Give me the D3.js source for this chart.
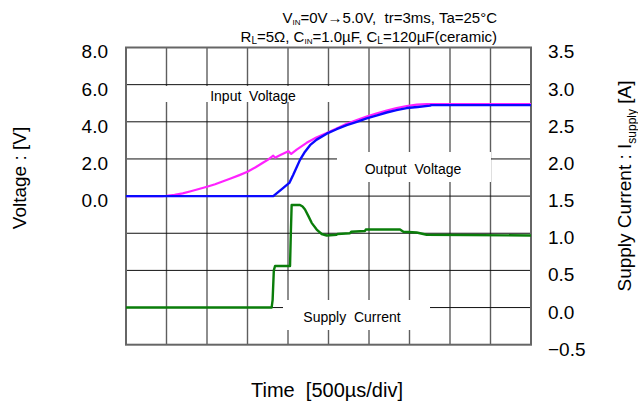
<!DOCTYPE html>
<html><head><meta charset="utf-8">
<script src="https://cdn.jsdelivr.net/npm/d3@7"></script>
<style>
html,body{margin:0;padding:0;background:#fff;}
svg{display:block;font-family:"Liberation Sans",Arial,sans-serif;}
text{white-space:pre;}
</style></head>
<body><svg id="c" width="638" height="401"></svg>
<script>
// ---- data ----
const timeTicks = [0,500,1000,1500,2000,2500,3000,3500,4000,4500,5000]; // µs, 500 µs/div
const voltGrid = [-8,-6,-4,-2,0,2,4,6,8];
const voltTickLabels = [8,6,4,2,0];
const currTickLabels = [3.5,3.0,2.5,2.0,1.5,1.0,0.5,0.0,-0.5];

const inputT = [0,450,500,600,700,800,900,1000,1100,1200,1300,1400,1500,1600,1700,1750,1818,1840,1900,2004,2040,2107,2230,2350,2478,2600,2725,2850,2971,3100,3218,3340,3465,3590,3712,5000];
const inputV = [0,0,0.02,0.07,0.15,0.26,0.38,0.5,0.64,0.8,0.96,1.13,1.31,1.55,1.82,1.95,2.18,2.07,2.2,2.42,2.27,2.5,2.87,3.15,3.4,3.64,3.89,4.1,4.28,4.46,4.6,4.74,4.85,4.92,4.95,4.95];

const outputT = [0,1818,1942,2016,2065,2148,2210,2272,2354,2478,2600,2725,2850,2971,3100,3218,3340,3465,3600,3753,3770,5000];
const outputV = [0,0,0.44,0.71,1.15,1.95,2.39,2.74,3.04,3.36,3.6,3.82,4.0,4.18,4.35,4.5,4.63,4.74,4.8,4.87,4.9,4.9];

const currT = [0,1798,1810,1825,1840,2025,2035,2045,2148,2180,2210,2252,2292,2354,2416,2478,2601,2610,2765,2780,2950,2960,3383,3424,3588,3712,5000];
const currI = [0,0,0.1,0.5,0.56,0.56,1.0,1.38,1.38,1.36,1.32,1.23,1.14,1.05,0.99,0.97,0.98,0.99,1.0,1.02,1.03,1.05,1.05,1.02,1.01,0.98,0.97];

// ---- layout ----
const L=126, R=531, T=47.5, B=344.7;
const svg = d3.select("#c");
const x = d3.scaleLinear().domain([0,5000]).range([L,R]);
const yV = d3.scaleLinear().domain([-8,8]).range([B,T]);
const yI = d3.scaleLinear().domain([-0.5,3.5]).range([B,T]);

// grid
svg.append("g").selectAll("line").data(timeTicks.slice(1,-1)).join("line")
  .attr("x1",d=>x(d)).attr("x2",d=>x(d)).attr("y1",T).attr("y2",B)
  .attr("stroke","#5e5e5e").attr("stroke-width",1.4);
svg.append("g").selectAll("line").data(voltGrid.slice(1,-1)).join("line")
  .attr("x1",L).attr("x2",R).attr("y1",d=>yV(d)).attr("y2",d=>yV(d))
  .attr("stroke","#111").attr("stroke-width",1);

// label boxes (white) over grid
const boxes = [[150,86,195,16],[337,152,154,30],[283,300,147,30]];
svg.append("g").selectAll("rect").data(boxes).join("rect")
  .attr("x",d=>d[0]).attr("y",d=>d[1]).attr("width",d=>d[2]).attr("height",d=>d[3]).attr("fill","#fff");

// frame
svg.append("rect").attr("x",L).attr("y",T).attr("width",R-L).attr("height",B-T)
  .attr("fill","none").attr("stroke","#666").attr("stroke-width",2);

// axes
const axL = d3.axisLeft(yV).tickValues(voltTickLabels).tickSize(0).tickPadding(18).tickFormat(d3.format(".1f"));
const gL = svg.append("g").attr("transform",`translate(${L},0)`).call(axL);
const axR = d3.axisRight(yI).tickValues(currTickLabels).tickSize(0).tickPadding(17).tickFormat(d3.format(".1f"));
const gR = svg.append("g").attr("transform",`translate(${R},0)`).call(axR);
[gL,gR].forEach(g=>{
  g.select(".domain").remove();
  g.selectAll("text").attr("font-size",19).attr("fill","#000")
   .attr("font-family","Liberation Sans, Arial, sans-serif").attr("dy","0.55em");
});

// curves
const line = (xs,ys,sy)=>d3.line().x((d,i)=>x(xs[i])).y((d,i)=>sy(ys[i]))(xs);
svg.append("path").attr("d",line(currT,currI,yI)).attr("fill","none").attr("stroke","#0a7d0a").attr("stroke-width",2.4).attr("stroke-linejoin","round");
svg.append("path").attr("d",line(inputT,inputV,yV)).attr("fill","none").attr("stroke","#ff22ff").attr("stroke-width",2.2).attr("stroke-linejoin","round");
svg.append("path").attr("d",line(outputT,outputV,yV)).attr("fill","none").attr("stroke","#0a0aff").attr("stroke-width",2.4).attr("stroke-linejoin","round");

// curve labels
const labs=[["Input  Voltage",253,96],["Output  Voltage",413,169],["Supply  Current",352,317]];
svg.append("g").selectAll("text").data(labs).join("text")
  .attr("x",d=>d[1]).attr("y",d=>d[2]).attr("dy","0.35em").attr("text-anchor","middle")
  .attr("font-size",14).attr("fill","#000").text(d=>d[0]);

// titles
const t1 = svg.append("text").attr("x",497).attr("y",23).attr("text-anchor","end").attr("font-size",15);
t1.append("tspan").text("V");
t1.append("tspan").attr("font-size",8).attr("dy",2).text("IN");
t1.append("tspan").attr("dy",-2).text("=0V→5.0V,  tr=3ms, Ta=25°C");
const t2 = svg.append("text").attr("x",497).attr("y",42).attr("text-anchor","end").attr("font-size",15);
t2.append("tspan").text("R");
t2.append("tspan").attr("font-size",10).attr("dy",2).text("L");
t2.append("tspan").attr("dy",-2).text("=5Ω, C");
t2.append("tspan").attr("font-size",8).attr("dy",2).text("IN");
t2.append("tspan").attr("dy",-2).text("=1.0µF, C");
t2.append("tspan").attr("font-size",10).attr("dy",2).text("L");
t2.append("tspan").attr("dy",-2).text("=120µF(ceramic)");

// axis titles
svg.append("text").attr("x",327).attr("y",397).attr("text-anchor","middle").attr("font-size",20).text("Time  [500µs/div]");
svg.append("text").attr("transform","translate(26,178) rotate(-90)").attr("text-anchor","middle").attr("font-size",19).text("Voltage : [V]");
const rt = svg.append("text").attr("transform","translate(631,186) rotate(-90)").attr("text-anchor","middle").attr("font-size",19);
rt.append("tspan").text("Supply Current : I");
rt.append("tspan").attr("font-size",12).attr("dy",5).text("supply");
rt.append("tspan").attr("dy",-5).text(" [A]");
</script></body></html>
